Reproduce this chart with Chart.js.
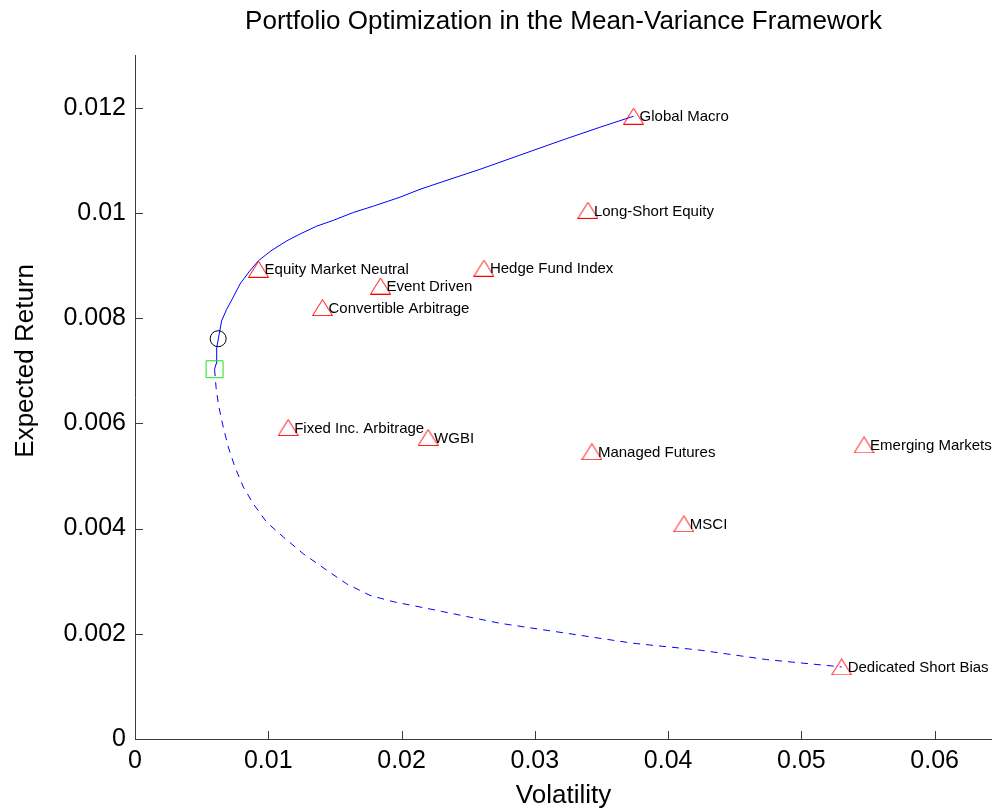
<!DOCTYPE html>
<html>
<head>
<meta charset="utf-8">
<title>Portfolio Optimization in the Mean-Variance Framework</title>
<script src="https://cdn.jsdelivr.net/npm/chart.js@4/dist/chart.umd.min.js"></script>
<style>
  html, body { margin: 0; padding: 0; background: #fff; overflow: hidden; }
  #wrap { width: 992px; height: 812px; }
</style>
</head>
<body>
<div id="wrap"><canvas id="c" width="992" height="812"></canvas></div>
<script>
// Monthly index statistics: volatility (std. dev.) and expected return
const assetNames = ['Global Macro', 'Long-Short Equity', 'Hedge Fund Index', 'Equity Market Neutral',
  'Event Driven', 'Convertible Arbitrage', 'Fixed Inc. Arbitrage', 'WGBI', 'Managed Futures',
  'Emerging Markets', 'MSCI', 'Dedicated Short Bias'];
const assetVol = [0.03741, 0.03398, 0.02618, 0.00927, 0.01842, 0.01407, 0.01149, 0.02199, 0.03428, 0.05470, 0.04118, 0.05302];
const assetRet = [0.01184, 0.01005, 0.00895, 0.00893, 0.00861, 0.00820, 0.00592, 0.00573, 0.00546, 0.00559, 0.00409, 0.00137];

// Efficient frontier (upper branch)
const frontierVol = [0.00597, 0.00608, 0.00613, 0.00632, 0.00650, 0.00688, 0.00737, 0.00788, 0.00855, 0.00925,
  0.01020, 0.01138, 0.01238, 0.01363, 0.01488, 0.01638, 0.01788, 0.01988, 0.02138, 0.02326,
  0.02588, 0.02888, 0.03188, 0.03488, 0.03741];
const frontierRet = [0.00703, 0.00713, 0.00744, 0.00770, 0.00795, 0.00817, 0.00840, 0.00865, 0.00888, 0.00909,
  0.00928, 0.00947, 0.00960, 0.00975, 0.00986, 0.01001, 0.01013, 0.01030, 0.01045, 0.01061,
  0.01083, 0.01110, 0.01137, 0.01163, 0.01184];

// Inefficient (lower) branch of the minimum-variance set
const lowerVol = [0.00597, 0.00608, 0.00625, 0.00662, 0.00700, 0.00750, 0.00813, 0.00888, 0.00988, 0.01113,
  0.01263, 0.01438, 0.01588, 0.01763, 0.01938, 0.02138, 0.02738, 0.03238, 0.03738, 0.04238,
  0.04738, 0.05302];
const lowerRet = [0.00703, 0.00669, 0.00637, 0.00593, 0.00555, 0.00517, 0.00479, 0.00447, 0.00412, 0.00384,
  0.00352, 0.00321, 0.00295, 0.00273, 0.00261, 0.00251, 0.00220, 0.00201, 0.00182, 0.00169,
  0.00151, 0.00137];

// Special portfolios
const tangencyPoint = { vol: 0.00624, ret: 0.00761 };   // circle
const minVarPoint = { vol: 0.00597, ret: 0.00703 };     // square

// Axes
const xTicks = [0, 0.01, 0.02, 0.03, 0.04, 0.05, 0.06];
const xTickLabels = ['0', '0.01', '0.02', '0.03', '0.04', '0.05', '0.06'];
const yTicks = [0, 0.002, 0.004, 0.006, 0.008, 0.01, 0.012];
const yTickLabels = ['0', '0.002', '0.004', '0.006', '0.008', '0.01', '0.012'];
const yAxisTitle = 'Expected Return';

const FONT = "'Liberation Sans', Arial, Helvetica, sans-serif";
const AXIS_COLOR = '#3c3c3c';

// Hollow upward triangle marker, centred on its bounding box
function triangleGlyph() {
  const w = 21, h = 17;
  const cv = document.createElement('canvas');
  cv.width = w; cv.height = h;
  const g = cv.getContext('2d');
  g.strokeStyle = '#ff0000';
  g.lineWidth = 1;
  g.beginPath();
  g.moveTo(w / 2, 0.5);
  g.lineTo(w - 0.5, h - 0.5);
  g.lineTo(0.5, h - 0.5);
  g.closePath();
  g.stroke();
  return cv;
}

const pts = (xs, ys) => xs.map((x, i) => ({ x, y: ys[i] }));

// Inward tick marks on the left and bottom axes
const inwardTicks = {
  id: 'inwardTicks',
  afterDatasetsDraw(chart) {
    const { ctx, chartArea, scales } = chart;
    const len = 8;
    ctx.save();
    ctx.strokeStyle = AXIS_COLOR;
    ctx.lineWidth = 1;
    ctx.beginPath();
    scales.x.ticks.forEach((t, i) => {
      const px = Math.round(scales.x.getPixelForTick(i)) + 0.5;
      ctx.moveTo(px, chartArea.bottom);
      ctx.lineTo(px, chartArea.bottom - len);
    });
    scales.y.ticks.forEach((t, i) => {
      const py = Math.round(scales.y.getPixelForTick(i)) + 0.5;
      ctx.moveTo(chartArea.left, py);
      ctx.lineTo(chartArea.left + len, py);
    });
    ctx.stroke();
    ctx.restore();
  }
};

// Rotated y-axis caption, sitting a little above the middle of the axis
const yCaption = {
  id: 'yCaption',
  afterDraw(chart) {
    const { ctx, chartArea } = chart;
    const cy = chartArea.top + 0.447 * (chartArea.bottom - chartArea.top);
    ctx.save();
    ctx.translate(26, cy);
    ctx.rotate(-Math.PI / 2);
    ctx.font = '26px ' + FONT;
    ctx.fillStyle = '#000';
    ctx.textAlign = 'center';
    ctx.textBaseline = 'middle';
    ctx.fillText(yAxisTitle, 0, 0);
    ctx.restore();
  }
};

// Asset names written to the right of each marker
const assetLabels = {
  id: 'assetLabels',
  afterDatasetsDraw(chart) {
    const meta = chart.getDatasetMeta(0);
    const { ctx } = chart;
    ctx.save();
    ctx.font = '15px ' + FONT;
    ctx.fillStyle = '#000';
    ctx.textAlign = 'left';
    ctx.textBaseline = 'middle';
    meta.data.forEach((el, i) => {
      ctx.fillText(assetNames[i], el.x + 6, el.y + 1);
    });
    ctx.restore();
  }
};

new Chart(document.getElementById('c'), {
  type: 'scatter',
  data: {
    datasets: [
      {
        label: 'Assets',
        data: pts(assetVol, assetRet),
        pointStyle: triangleGlyph(),
        pointRadius: 10,
        order: 0
      },
      {
        label: 'Efficient frontier',
        data: pts(frontierVol, frontierRet),
        showLine: true,
        borderColor: '#0000ff',
        borderWidth: 1,
        pointRadius: 0,
        order: 2
      },
      {
        label: 'Inefficient frontier',
        data: pts(lowerVol, lowerRet),
        showLine: true,
        borderColor: '#0000ff',
        borderWidth: 1,
        borderDash: [7, 6],
        pointRadius: 0,
        order: 2
      },
      {
        label: 'Tangency portfolio',
        data: [{ x: tangencyPoint.vol, y: tangencyPoint.ret }],
        pointStyle: 'circle',
        pointRadius: 8,
        borderColor: '#000',
        backgroundColor: 'rgba(0,0,0,0)',
        borderWidth: 1,
        order: 1
      },
      {
        label: 'Minimum variance portfolio',
        data: [{ x: minVarPoint.vol, y: minVarPoint.ret }],
        pointStyle: 'rect',
        pointRadius: 12,
        borderColor: '#22e022',
        backgroundColor: 'rgba(0,0,0,0)',
        borderWidth: 1,
        order: 1
      }
    ]
  },
  options: {
    responsive: false,
    animation: false,
    devicePixelRatio: 1,
    layout: { padding: 0, autoPadding: false },
    plugins: {
      legend: { display: false },
      tooltip: { enabled: false },
      title: {
        display: true,
        fullSize: false,
        text: 'Portfolio Optimization in the Mean-Variance Framework',
        color: '#000',
        font: { family: FONT, size: 26, weight: 'normal', lineHeight: 1.2 },
        padding: { top: 6, bottom: 18 }
      }
    },
    scales: {
      x: {
        type: 'linear',
        min: 0,
        max: 0.0643,
        afterBuildTicks: s => { s.ticks = xTicks.map(v => ({ value: v })); },
        afterFit: s => { s.height = 73; s.paddingLeft = 0; s.paddingRight = 0; },
        ticks: {
          color: '#000',
          font: { family: FONT, size: 25 },
          padding: 7,
          maxRotation: 0,
          callback: (v) => xTickLabels[xTicks.indexOf(v)] ?? ''
        },
        grid: { drawOnChartArea: false, drawTicks: false },
        border: { display: true, color: AXIS_COLOR, width: 1 },
        title: {
          display: true,
          text: 'Volatility',
          color: '#000',
          font: { family: FONT, size: 26, lineHeight: 1.2 },
          padding: { top: 0, bottom: 1 }
        }
      },
      y: {
        type: 'linear',
        min: 0,
        max: 0.013,
        afterBuildTicks: s => { s.ticks = yTicks.map(v => ({ value: v })); },
        afterFit: s => { s.width = 135; s.paddingTop = 0; s.paddingBottom = 0; },
        ticks: {
          color: '#000',
          font: { family: FONT, size: 25 },
          padding: 9,
          callback: (v) => yTickLabels[yTicks.indexOf(v)] ?? ''
        },
        grid: { drawOnChartArea: false, drawTicks: false },
        border: { display: true, color: AXIS_COLOR, width: 1 },
        title: { display: false }
      }
    }
  },
  plugins: [inwardTicks, assetLabels, yCaption]
});
</script>
</body>
</html>
